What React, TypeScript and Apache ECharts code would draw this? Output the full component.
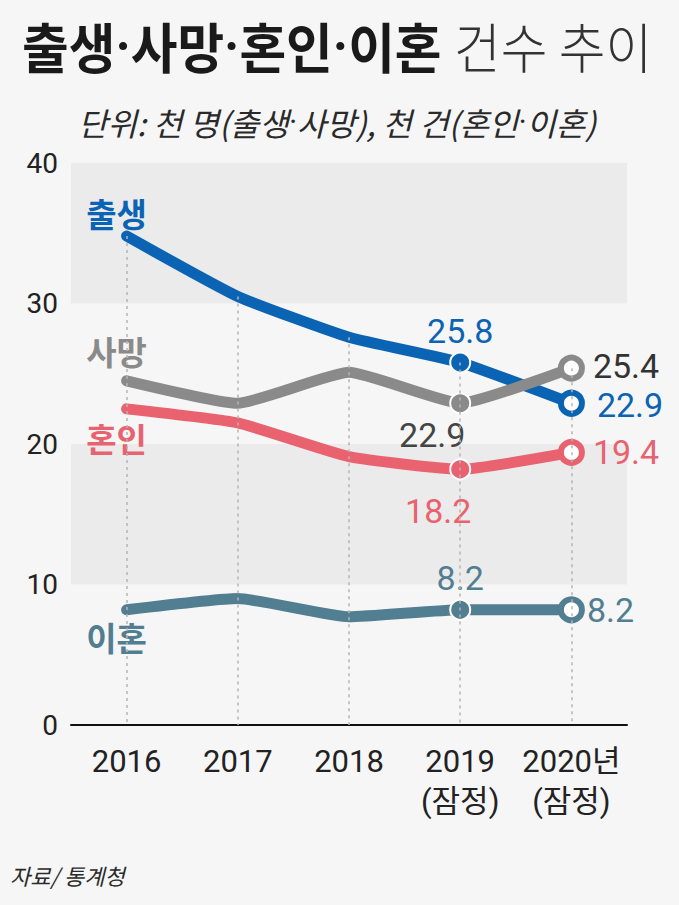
import React, { useEffect, useRef } from "react";
import * as echarts from "echarts";

const years = ["2016", "2017", "2018", "2019\n(잠정)", "2020년\n(잠정)"];
const births = [34.8, 30.5, 27.6, 25.8, 22.9];
const deaths = [24.5, 22.9, 25.1, 22.9, 25.4];
const marriages = [22.5, 21.5, 19.1, 18.2, 19.4];
const divorces = [8.2, 9.0, 7.7, 8.2, 8.2];
const yTicks = [0, 10, 20, 30, 40];
const bands = [[10, 20], [30, 40]];

const NUM = "Roboto, 'Noto Sans CJK KR', sans-serif";
const KR = "'Noto Sans CJK KR', sans-serif";

const BLUE = "#0b63b3";
const GRAY = "#8a8a8a";
const RED = "#e8626f";
const TEAL = "#527e91";

type Cfg = {
  name: string;
  data: number[];
  color: string;
  nameLabel: any;
  lab2019: any;
  lab2020: any;
};

function buildSeries(c: Cfg) {
  const data = c.data.map((v, i) => {
    const item: any = { value: v };
    if (i === 0) {
      item.symbol = "circle";
      item.symbolSize = 2;
      item.itemStyle = { color: c.color };
      item.label = {
        show: true,
        formatter: c.name,
        color: c.color,
        fontFamily: KR,
        fontWeight: "bold",
        fontSize: 33,
        ...c.nameLabel,
      };
    } else if (i === 3) {
      item.symbol = "circle";
      item.symbolSize = 20;
      item.itemStyle = { color: c.color, borderColor: "#ffffff", borderWidth: 2 };
      item.label = {
        show: true,
        formatter: String(v),
        fontFamily: NUM,
        fontSize: 34,
        ...c.lab2019,
      };
    } else if (i === 4) {
      item.symbol = "circle";
      item.symbolSize = 21;
      item.itemStyle = { color: "#ffffff", borderColor: c.color, borderWidth: 6 };
      item.label = {
        show: true,
        formatter: String(v),
        fontFamily: NUM,
        fontSize: 34,
        position: "right",
        distance: 8,
        ...c.lab2020,
      };
    }
    return item;
  });
  return {
    type: "line",
    name: c.name,
    data,
    smooth: 0.15,
    symbol: "none",
    showAllSymbol: true,
    lineStyle: { color: c.color, width: 11, cap: "round", join: "round" },
    itemStyle: { color: c.color },
    z: 3,
  };
}

function dotted(parts: string[], style: string): string {
  return parts.map((p) => `{${style}|${p}}`).join("{d|·}");
}

export default function App() {
  const ref = useRef<HTMLDivElement>(null);
  useEffect(() => {
    if (!ref.current) return;
    const chart = echarts.init(ref.current, undefined, { renderer: "svg" });
    const tops = years.map((_, i) => Math.max(births[i], deaths[i], marriages[i], divorces[i]));
    const option: any = {
      animation: false,
      backgroundColor: "#f6f6f6",
      grid: { left: 71, right: 52, top: 163, bottom: 180 },
      xAxis: {
        type: "category",
        data: years,
        boundaryGap: true,
        axisLine: { lineStyle: { color: "#111", width: 2 } },
        axisTick: { show: false },
        axisLabel: {
          color: "#222",
          fontFamily: NUM,
          fontSize: 31,
          lineHeight: 40,
          margin: 16,
          interval: 0,
        },
        splitLine: { show: false },
      },
      yAxis: {
        type: "value",
        min: yTicks[0],
        max: yTicks[yTicks.length - 1],
        interval: 10,
        axisLine: { show: false },
        axisTick: { show: false },
        splitLine: { show: false },
        axisLabel: { color: "#222", fontFamily: NUM, fontSize: 28, margin: 13 },
      },
      series: [
        {
          type: "line",
          name: "guide",
          data: tops,
          symbol: "none",
          lineStyle: { opacity: 0 },
          silent: true,
          z: 1,
          markArea: {
            silent: true,
            itemStyle: { color: "#ebebeb" },
            data: bands.map((b) => [{ yAxis: b[0] }, { yAxis: b[1] }]),
          },
          markLine: {
            silent: true,
            symbol: "none",
            label: { show: false },
            lineStyle: { color: "#b5b5b5", type: [3, 4], width: 1.5 },
            data: tops.map((t, i) => [
              { coord: [i, t] },
              { coord: [i, 0] },
            ]),
          },
        },
        buildSeries({
          name: "출생",
          data: births,
          color: BLUE,
          nameLabel: { position: "top", offset: [-10, 0], distance: 6 },
          lab2019: { position: "top", color: BLUE, distance: 4 },
          lab2020: { color: BLUE, offset: [4, 2] },
        }),
        buildSeries({
          name: "사망",
          data: deaths,
          color: GRAY,
          nameLabel: { position: "top", offset: [-10, 0], distance: 12 },
          lab2019: { position: "bottom", color: "#444", offset: [-28, 0], distance: 4 },
          lab2020: { color: "#333", offset: [0, -2] },
        }),
        buildSeries({
          name: "혼인",
          data: marriages,
          color: RED,
          nameLabel: { position: "bottom", offset: [-10, 0], distance: 12 },
          lab2019: { position: "bottom", color: RED, offset: [-22, 0], distance: 14 },
          lab2020: { color: RED },
        }),
        buildSeries({
          name: "이혼",
          data: divorces,
          color: TEAL,
          nameLabel: { position: "bottom", offset: [-10, 0], distance: 10 },
          lab2019: { position: "top", color: TEAL, distance: 4 },
          lab2020: { color: TEAL, distance: 2 },
        }),
      ],
      graphic: [
        {
          type: "text",
          left: 22,
          top: 18,
          scaleX: 0.94,
          style: {
            text: dotted(["출생", "사망", "혼인", "이혼"], "b") + "{s| }{l|건수 추이}",
            rich: {
              b: { fontFamily: KR, fontWeight: "bold", fontSize: 54, fill: "#1a1a1a" },
              d: { fontFamily: "Roboto", fontWeight: "bold", fontSize: 54, fill: "#1a1a1a" },
              s: { fontFamily: "Roboto", fontSize: 54 },
              l: { fontFamily: KR, fontWeight: 300, fontSize: 54, fill: "#333" },
            },
          },
        },
        {
          type: "text",
          left: 78,
          top: 106,
          style: {
            text:
              "{k|단위: 천 명(}" +
              dotted(["출생", "사망"], "k") +
              "{k|), 천 건(}" +
              dotted(["혼인", "이혼"], "k") +
              "{k|)}",
            rich: {
              k: { fontFamily: KR, fontSize: 32, fontStyle: "italic", fill: "#2a2a2a" },
              d: { fontFamily: "Roboto", fontSize: 32, fontStyle: "italic", fill: "#2a2a2a" },
            },
          },
        },
        {
          type: "text",
          right: 69,
          top: 174,
          style: {
            text: "2월 기준",
            fontFamily: KR,
            fontSize: 31,
            fill: "#2a2a2a",
          },
        },
        {
          type: "text",
          left: 10,
          top: 864,
          style: {
            text: "자료/ 통계청",
            fontFamily: KR,
            fontSize: 22,
            fontStyle: "italic",
            fill: "#2a2a2a",
          },
        },
      ],
    };
    chart.setOption(option);
    return () => chart.dispose();
  }, []);
  return (
    <div
      ref={ref}
      style={{ position: "fixed", left: 0, top: 0, width: 679, height: 905 }}
    />
  );
}
